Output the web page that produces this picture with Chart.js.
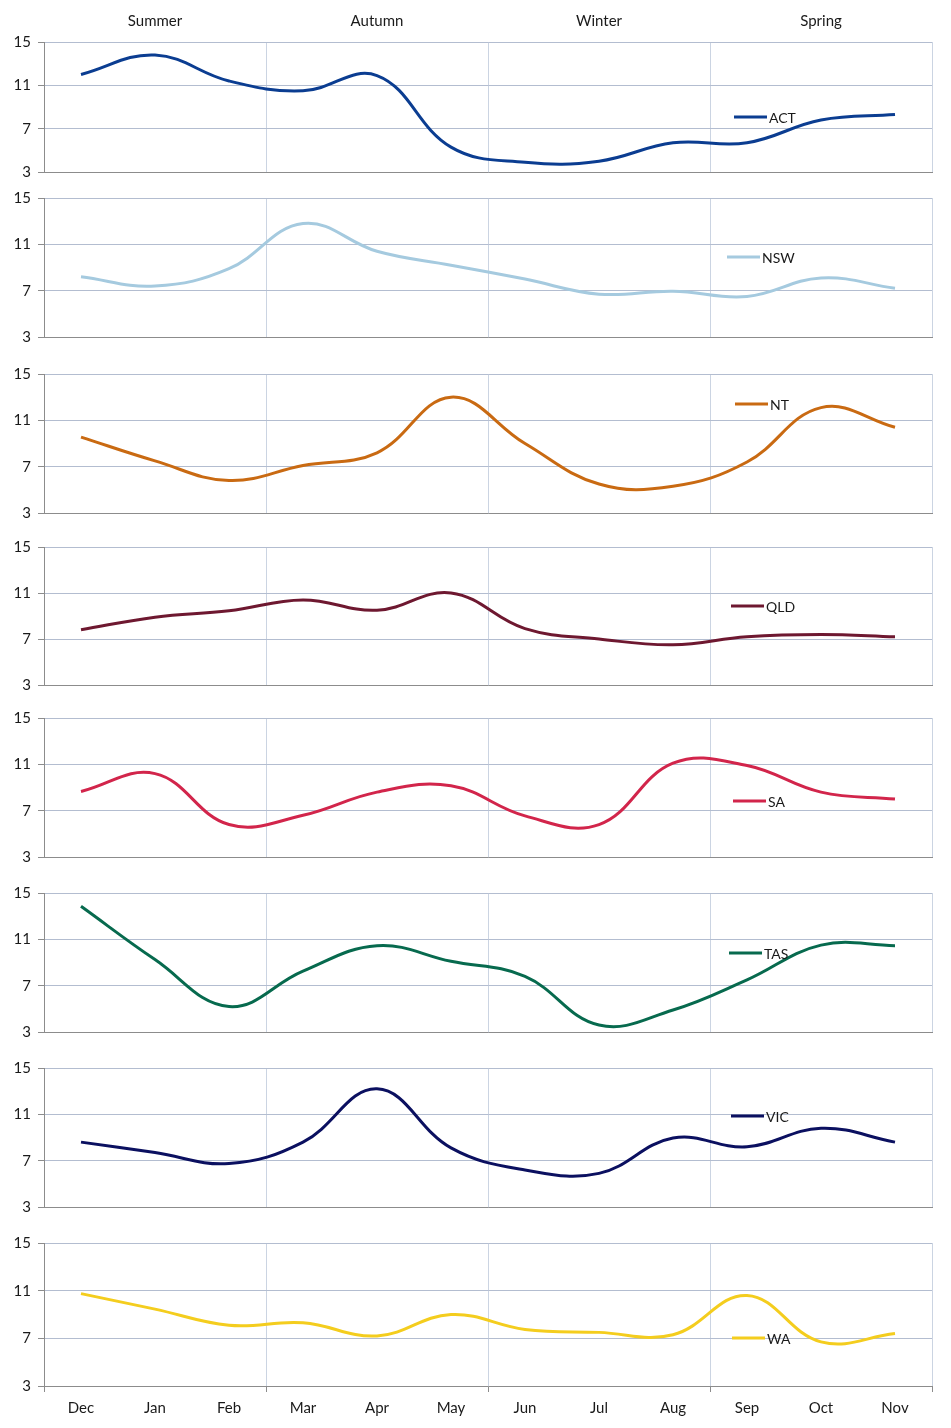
<!DOCTYPE html>
<html>
<head>
<meta charset="utf-8">
<script src="https://cdn.jsdelivr.net/npm/chart.js@4.4.1/dist/chart.umd.min.js"></script>
<style>
  html, body { margin: 0; padding: 0; background: #fff; }
  #wrap { position: relative; width: 951px; height: 1428px; }
  #wrap canvas { position: absolute; left: 0; }
</style>
</head>
<body>
<div id="wrap"></div>
<script>
const months = ['Dec', 'Jan', 'Feb', 'Mar', 'Apr', 'May', 'Jun', 'Jul', 'Aug', 'Sep', 'Oct', 'Nov'];
const seasons = ['Summer', 'Autumn', 'Winter', 'Spring'];
const yTicks = [3, 7, 11, 15];

const act = [12.0, 13.8, 11.4, 10.5, 11.9, 5.3, 3.9, 4.0, 5.7, 5.7, 7.8, 8.3];
const nsw = [8.2, 7.4, 8.9, 12.8, 10.4, 9.2, 8.0, 6.7, 6.95, 6.5, 8.1, 7.2];
const nt  = [9.55, 7.5, 5.8, 7.1, 8.2, 13.0, 9.0, 5.5, 5.3, 7.4, 12.1, 10.4];
const qld = [7.8, 8.9, 9.45, 10.4, 9.5, 11.0, 7.9, 7.0, 6.5, 7.2, 7.4, 7.2];
const sa  = [8.65, 10.2, 5.8, 6.6, 8.6, 9.15, 6.55, 5.8, 11.1, 10.9, 8.6, 8.0];
const tas = [13.85, 9.25, 5.2, 8.25, 10.45, 9.1, 7.8, 3.6, 4.9, 7.5, 10.5, 10.45];
const vic = [8.6, 7.7, 6.75, 8.6, 13.2, 8.1, 6.2, 5.9, 8.95, 8.2, 9.8, 8.6];
const wa  = [10.75, 9.45, 8.1, 8.3, 7.2, 9.0, 7.75, 7.5, 7.3, 10.6, 6.7, 7.4];

const states = ['ACT', 'NSW', 'NT', 'QLD', 'SA', 'TAS', 'VIC', 'WA'];
const series = [act, nsw, nt, qld, sa, tas, vic, wa];
const colors = ['#0b3d91', '#a5cadf', '#c96a12', '#6e1830', '#d2254b', '#076a4e', '#0b1060', '#f4cd1e'];

// plot area edges on the page, and where each little legend sits
const panels = [
  { top: 42,   bottom: 172,  legend: [734, 117] },
  { top: 198,  bottom: 337,  legend: [727, 257] },
  { top: 374,  bottom: 513,  legend: [735, 404] },
  { top: 547,  bottom: 685,  legend: [731, 606] },
  { top: 718,  bottom: 857,  legend: [733, 801] },
  { top: 893,  bottom: 1032, legend: [729, 953] },
  { top: 1068, bottom: 1207, legend: [731, 1116] },
  { top: 1243, bottom: 1386, legend: [732, 1338] }
];

const FONT = 'Lato, "Open Sans", sans-serif';
const TEXT = '#1a1a1a';
const AXIS = '#8c8c8c';
const GRID_H = '#b3bdd0';
const GRID_V = '#cbd4e2';
const PAD = 20; // room above/below each plot for the y tick labels

const insideLegend = {
  id: 'insideLegend',
  afterDatasetsDraw(chart, args, opts) {
    const ctx = chart.ctx;
    const ds = chart.data.datasets[0];
    ctx.save();
    ctx.strokeStyle = ds.borderColor;
    ctx.lineWidth = 3;
    ctx.beginPath();
    ctx.moveTo(opts.x, opts.y);
    ctx.lineTo(opts.x + 33, opts.y);
    ctx.stroke();
    ctx.fillStyle = TEXT;
    ctx.font = '14px ' + FONT;
    ctx.textBaseline = 'middle';
    ctx.fillText(ds.label, opts.x + 35, opts.y + 1);
    ctx.restore();
  }
};

const wrap = document.getElementById('wrap');
const last = panels.length - 1;

panels.forEach((p, i) => {
  const canvasTop = i === 0 ? 0 : p.top - PAD;
  const canvasBottom = i === last ? 1428 : p.bottom + PAD;
  const cv = document.createElement('canvas');
  cv.width = 951;
  cv.height = canvasBottom - canvasTop;
  cv.style.top = canvasTop + 'px';
  wrap.appendChild(cv);

  const isLast = i === last;
  const scales = {
    x: {
      type: 'category',
      offset: true,
      grid: {
        offset: true,
        drawTicks: isLast,
        tickLength: 6,
        color: c => (c.type !== 'tick' || c.index % 3 === 0) ? GRID_V : 'rgba(0,0,0,0)',
        tickColor: c => (c.type !== 'tick' || c.index % 3 === 0) ? AXIS : 'rgba(0,0,0,0)'
      },
      border: { display: true, color: AXIS, width: 1 },
      ticks: {
        display: isLast,
        autoSkip: false,
        maxRotation: 0,
        padding: 7,
        color: TEXT,
        font: { family: FONT, size: 15 }
      },
      afterFit: s => { s.height = isLast ? 42 : 0; }
    },
    y: {
      min: 3,
      max: 15,
      afterBuildTicks: s => { s.ticks = yTicks.map(v => ({ value: v })); },
      grid: { color: GRID_H, tickColor: AXIS, tickLength: 6 },
      border: { display: true, color: AXIS, width: 1 },
      ticks: {
        padding: 7,
        color: TEXT,
        font: { family: FONT, size: 15 }
      },
      afterFit: s => { s.width = 44; }
    }
  };
  if (i === 0) {
    scales.x2 = {
      type: 'category',
      labels: seasons,
      position: 'top',
      offset: true,
      grid: { display: false, drawTicks: false },
      border: { display: false },
      ticks: {
        padding: 12,
        maxRotation: 0,
        color: TEXT,
        font: { family: FONT, size: 15 }
      },
      afterFit: s => { s.height = 42; }
    };
  }

  new Chart(cv.getContext('2d'), {
    type: 'line',
    data: {
      labels: months,
      datasets: [{
        label: states[i],
        data: series[i],
        borderColor: colors[i],
        borderWidth: 3,
        pointRadius: 0,
        tension: 0.4,
        fill: false
      }]
    },
    options: {
      responsive: false,
      animation: false,
      layout: {
        padding: {
          left: 0,
          right: 19,
          top: i === 0 ? 0 : p.top - canvasTop,
          bottom: isLast ? 0 : PAD
        }
      },
      plugins: {
        legend: { display: false },
        tooltip: { enabled: false },
        insideLegend: { x: p.legend[0], y: p.legend[1] - canvasTop }
      },
      scales: scales
    },
    plugins: [insideLegend]
  });
});
</script>
</body>
</html>
